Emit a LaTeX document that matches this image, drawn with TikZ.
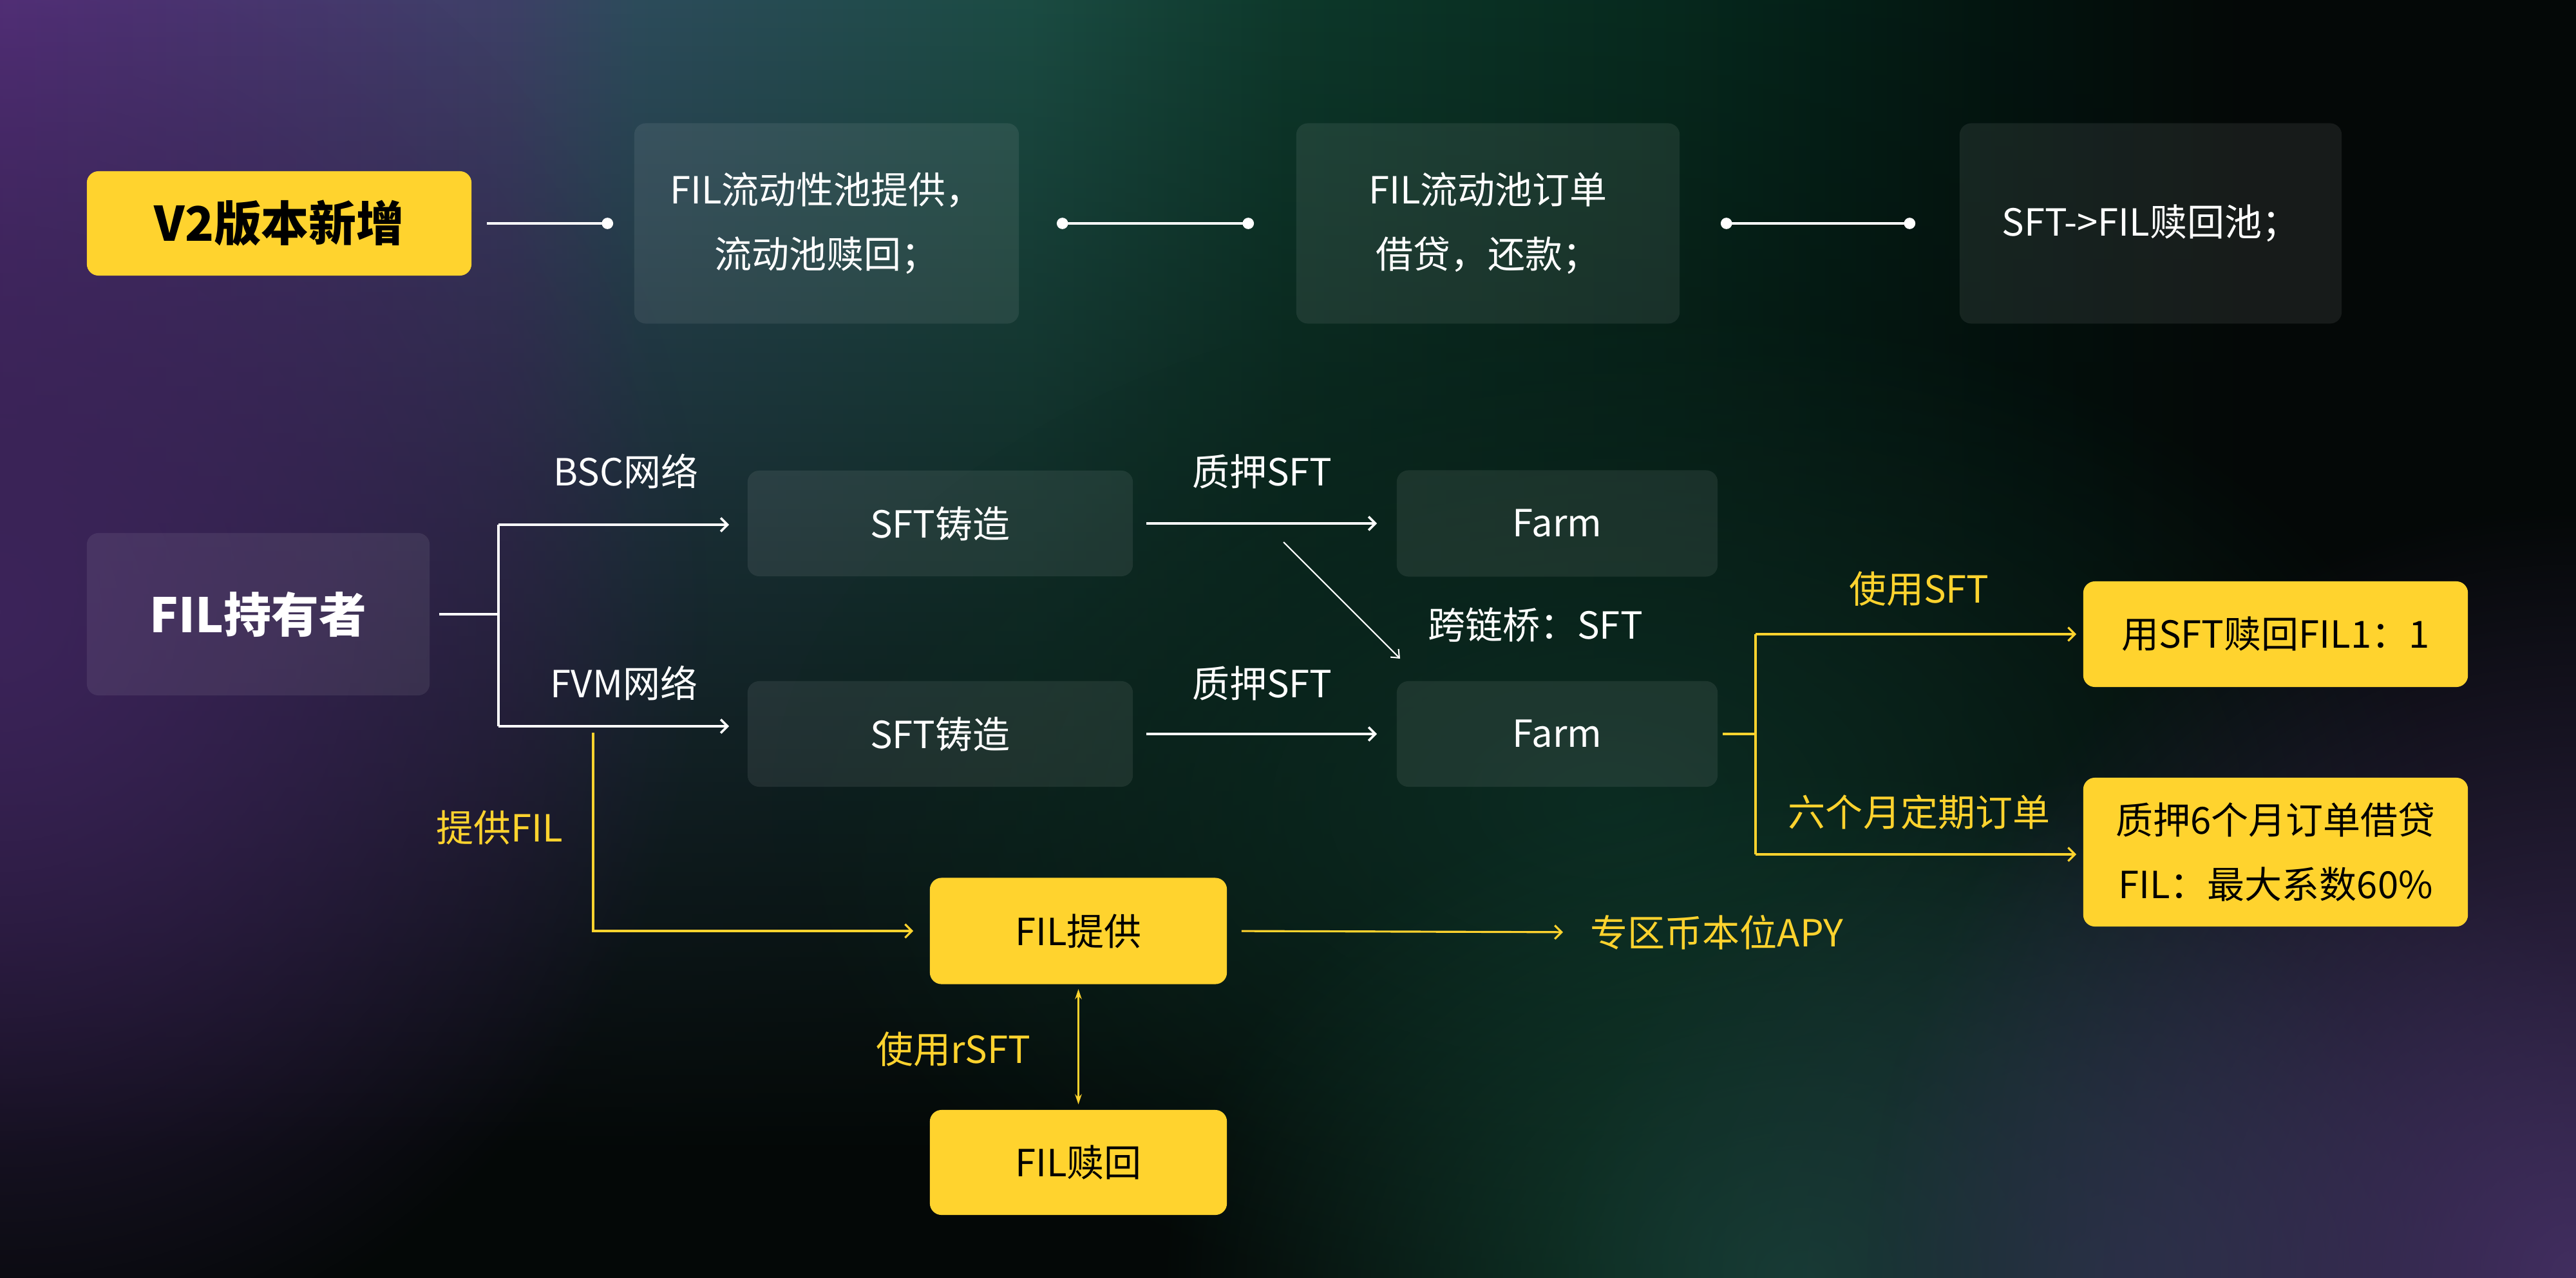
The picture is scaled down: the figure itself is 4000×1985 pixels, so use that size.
\documentclass[tikz,border=0pt]{standalone}
\usepackage{fontspec}
\setmainfont{Noto Sans CJK SC}
\usetikzlibrary{arrows.meta,fadings,calc}
\tikzfading[name=glow, inner color=transparent!0, outer color=transparent!100]
\tikzfading[name=fadedown, top color=transparent!0, middle color=transparent!45, bottom color=transparent!100]
\definecolor{ylw}{HTML}{FFD32E}
\definecolor{bgbase}{HTML}{040807}
\definecolor{tg0}{HTML}{5A3282}
\definecolor{tg1}{HTML}{40426A}
\definecolor{tg2}{HTML}{2E4E5E}
\definecolor{tg3}{HTML}{1C4E45}
\definecolor{tg4}{HTML}{0E3A2C}
\definecolor{tg5}{HTML}{072A1E}
\definecolor{tg6}{HTML}{031510}
\definecolor{tg7}{HTML}{040807}
\pgfdeclarehorizontalshading{topgrad}{100bp}{color(0bp)=(tg0); color(25bp)=(tg0); color(35bp)=(tg1); color(37.5bp)=(tg2); color(45bp)=(tg3); color(50bp)=(tg4); color(57.5bp)=(tg5); color(63.75bp)=(tg6); color(68.75bp)=(tg7); color(100bp)=(tg7)}
\begin{document}
\begin{tikzpicture}[x=0.01cm,y=-0.01cm,
  txt/.style={font=\fontsize{16.5}{28.5}\selectfont},
  gbox/.style={txt, fill=white, fill opacity=0.08, text opacity=1, text=white, rounded corners=0.18cm, align=center, inner sep=0pt},
  ybox/.style={txt, fill=ylw, text=black, rounded corners=0.18cm, align=center, inner sep=0pt},
  wlbl/.style={txt, text=white, inner sep=0pt},
  ylbl/.style={txt, text=ylw, inner sep=0pt},
  wline/.style={draw=white, line width=1pt},
  warr/.style={wline, -{Straight Barb[length=3pt,width=6pt]}},
  yline/.style={draw=ylw, line width=0.9pt},
  yarr/.style={yline, -{Straight Barb[length=3pt,width=6pt]}},
  dotline/.style={draw=white, line width=1pt},
]
\useasboundingbox (0,0) rectangle (4000,1985);
% background
\begin{scope}
\clip (0,0) rectangle (4000,1985);
\fill[bgbase] (-10,-10) rectangle (4010,1995);
\shade[shading=topgrad, path fading=fadedown] (-20,-60) rectangle (4020,1800);
\fill[color={rgb,255:red,60;green,36;blue,90}, path fading=glow] (0,950) ellipse [x radius=11cm, y radius=12cm];
\fill[color={rgb,255:red,12;green,44;blue,34}, path fading=glow] (2500,1250) ellipse [x radius=13cm, y radius=8cm];
\fill[color={rgb,255:red,20;green,66;blue,50}, path fading=glow] (2800,1985) ellipse [x radius=10cm, y radius=8cm];
\fill[color={rgb,255:red,30;green,50;blue,58}, path fading=glow] (3300,1985) ellipse [x radius=9cm, y radius=8cm];
\fill[color={rgb,255:red,66;green,46;blue,96}, path fading=glow] (4000,1985) ellipse [x radius=11cm, y radius=12cm];
\end{scope}

% top row
\node[ybox, minimum width=5.97cm, minimum height=1.62cm, font=\fontsize{21}{28}\selectfont\bfseries] (v2) at (433.5,347) {V2版本新增};
\node[gbox, minimum width=5.97cm, minimum height=3.11cm] (b1) at (1283.5,347) {FIL流动性池提供，\\流动池赎回；};
\node[gbox, minimum width=5.95cm, minimum height=3.11cm] (b2) at (2310.5,347) {FIL流动池订单\\借贷，还款；};
\node[gbox, minimum width=5.93cm, minimum height=3.11cm] (b3) at (3339.5,347) {SFT->FIL赎回池；};

\draw[dotline, -{Circle[length=5pt]}, shorten <=0.23cm, shorten >=0.32cm] (v2.east) -- (b1.west);
\draw[dotline, {Circle[length=5pt]}-{Circle[length=5pt]}, shorten <=0.58cm, shorten >=0.65cm] (b1.east) -- (b2.west);
\draw[dotline, {Circle[length=5pt]}-{Circle[length=5pt]}, shorten <=0.63cm, shorten >=0.68cm] (b2.east) -- (b3.west);

% middle
\node[gbox, minimum width=5.32cm, minimum height=2.52cm, font=\fontsize{21}{28}\selectfont\bfseries] (holder) at (401,954) {FIL持有者};
\node[gbox, minimum width=5.98cm, minimum height=1.64cm] (mint1) at (1460,813) {SFT铸造};
\node[gbox, minimum width=5.98cm, minimum height=1.64cm] (mint2) at (1460,1140) {SFT铸造};
\node[gbox, minimum width=4.98cm, minimum height=1.65cm] (farm1) at (2418,813) {Farm};
\node[gbox, minimum width=4.98cm, minimum height=1.64cm] (farm2) at (2418,1140) {Farm};

\node[wlbl] (lbsc) at (972,732) {BSC网络};
\node[wlbl] (lfvm) at (969,1061) {FVM网络};
\node[wlbl] (lst1) at (1960,732) {质押SFT};
\node[wlbl] (lst2) at (1960,1061) {质押SFT};
\node[wlbl] (lbridge) at (2384,970) {跨链桥：SFT};

\coordinate (j) at (774,954);
\coordinate (jt) at (774,815);
\coordinate (jb) at (774,1128);
\draw[wline, shorten <=0.14cm] (holder.east) -- (j);
\draw[wline] (jt) -- (jb);
\draw[warr, shorten >=0.28cm] (jt) -- (jt -| mint1.west);
\draw[warr, shorten >=0.28cm] (jb) -- (jb -| mint2.west);
\draw[warr, shorten <=0.20cm, shorten >=0.30cm] (mint1) -- (farm1);
\draw[warr, shorten <=0.20cm, shorten >=0.30cm] (mint2) -- (farm2);
\coordinate (ds) at (1993,842);
\coordinate (de) at (2174,1023);
\draw[draw=white, line width=0.6pt, -{Straight Barb[length=3pt,width=5pt]}] (ds) -- (de);

% right yellow branch
\node[ybox, minimum width=5.97cm, minimum height=1.64cm] (out1) at (3533.5,985) {用SFT赎回FIL1：1};
\node[ybox, minimum width=5.97cm, minimum height=2.31cm] (out2) at (3533.5,1323.5) {质押6个月订单借贷\\FIL：最大系数60\%};
\node[ylbl] (luse) at (2980,915) {使用SFT};
\node[ylbl] (lsix) at (2980,1261) {六个月定期订单};
\coordinate (yj) at (2726,1140);
\coordinate (yt) at (2726,985);
\coordinate (yb) at (2726,1327);
\draw[yline, shorten <=0.07cm] (farm2.east) -- (yj);
\draw[yline] (yt) -- (yb);
\draw[yarr, shorten >=0.10cm] (yt) -- (yt -| out1.west);
\draw[yarr, shorten >=0.10cm] (yb) -- (yb -| out2.west);

% bottom
\node[ybox, minimum width=4.61cm, minimum height=1.65cm] (supply) at (1674.5,1446) {FIL提供};
\node[ybox, minimum width=4.61cm, minimum height=1.63cm] (redeem) at (1674.5,1805.5) {FIL赎回};
\node[ylbl, anchor=west] (apy) at (2469,1448) {专区币本位APY};
\node[ylbl] (lprov) at (776,1285) {提供FIL};
\node[ylbl] (lrsft) at (1480,1630) {使用rSFT};
\coordinate (ps) at (921,1138);
\coordinate (pc) at (921,1446);
\draw[yarr, shorten >=0.25cm] (ps) -- (pc) -- (pc -| supply.west);
\draw[yarr, shorten <=0.22cm, shorten >=0.42cm] (supply.east) -- (apy.west);
\draw[draw=ylw, line width=0.6pt, {Stealth[length=4.5pt,width=3pt]}-{Stealth[length=4.5pt,width=3pt]}, shorten <=0.07cm, shorten >=0.08cm] (supply.south) -- (redeem.north);
\end{tikzpicture}
\end{document}
